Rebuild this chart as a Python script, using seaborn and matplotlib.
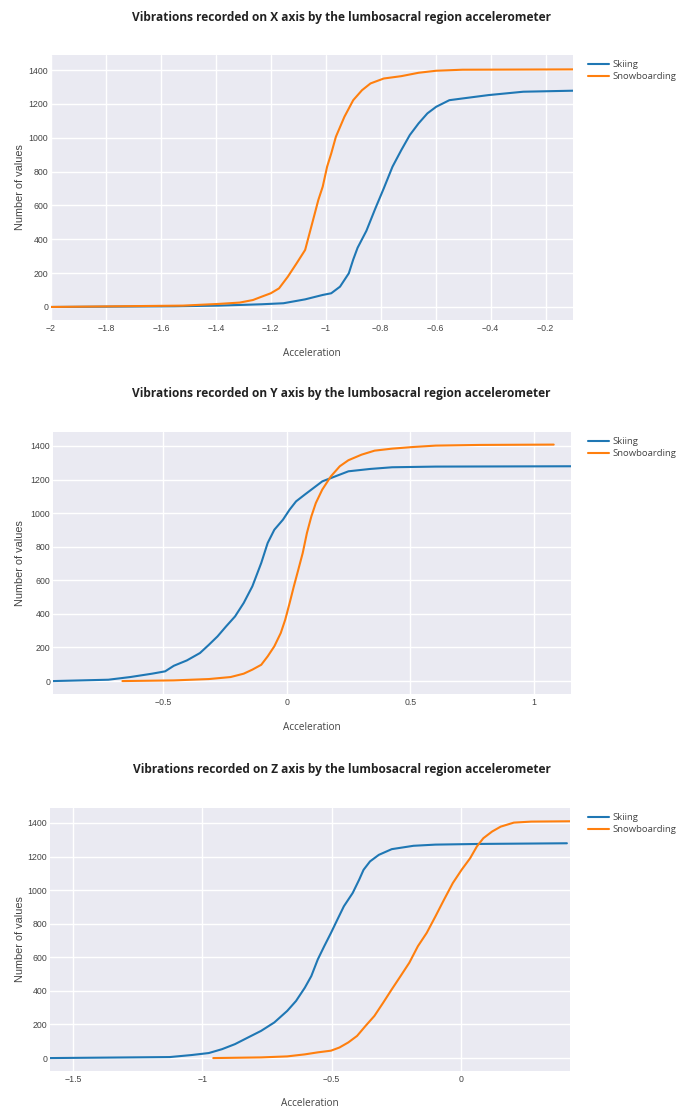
import numpy as np
import pandas as pd
import matplotlib
matplotlib.use("Agg")
import matplotlib.pyplot as plt
import seaborn as sns

# ---------------- data ----------------
titles = [
    "Vibrations recorded on X axis by the lumbosacral region accelerometer",
    "Vibrations recorded on Y axis by the lumbosacral region accelerometer",
    "Vibrations recorded on Z axis by the lumbosacral region accelerometer",
]
series_names = ["Skiing", "Snowboarding"]

x_ski_x = [-2.0, -1.55, -1.39, -1.233, -1.154, -1.075, -1.011, -0.98, -0.948, -0.916, -0.90,
           -0.884, -0.852, -0.82, -0.789, -0.757, -0.725, -0.694, -0.662, -0.63, -0.598,
           -0.55, -0.503, -0.408, -0.281, -0.1]
y_ski_x = [0, 4, 8, 16, 22, 45, 71, 81, 120, 199, 280, 350, 450, 580, 700, 829, 927, 1016,
           1085, 1144, 1183, 1222, 1232, 1252, 1272, 1278]

x_snow_x = [-2.0, -1.52, -1.39, -1.313, -1.265, -1.233, -1.2, -1.17, -1.138, -1.106, -1.075,
            -1.059, -1.043, -1.027, -1.011, -0.995, -0.98, -0.963, -0.932, -0.9, -0.868,
            -0.837, -0.789, -0.725, -0.662, -0.598, -0.503, -0.1]
y_snow_x = [0, 8, 18, 26, 41, 61, 81, 110, 179, 258, 337, 435, 533, 632, 711, 829, 907, 1006,
            1124, 1222, 1281, 1321, 1350, 1364, 1384, 1396, 1402, 1404]

x_ski_y = [-0.947, -0.723, -0.634, -0.546, -0.493, -0.458, -0.405, -0.352, -0.316, -0.281,
           -0.246, -0.21, -0.175, -0.14, -0.104, -0.078, -0.051, -0.016, 0.011, 0.037, 0.072,
           0.108, 0.143, 0.196, 0.249, 0.337, 0.426, 0.602, 1.15]
y_ski_y = [0, 8, 24, 44, 58, 91, 123, 167, 216, 266, 326, 385, 465, 564, 703, 822, 901, 961,
           1021, 1070, 1110, 1150, 1189, 1219, 1249, 1263, 1273, 1277, 1279]

x_snow_y = [-0.666, -0.458, -0.316, -0.228, -0.175, -0.14, -0.104, -0.078, -0.051, -0.025,
            -0.007, 0.011, 0.028, 0.046, 0.064, 0.081, 0.099, 0.117, 0.143, 0.178, 0.214,
            0.249, 0.302, 0.355, 0.426, 0.514, 0.602, 0.779, 1.08]
y_snow_y = [0, 4, 12, 24, 44, 68, 97, 147, 207, 286, 365, 465, 564, 663, 763, 882, 981, 1060,
            1140, 1219, 1279, 1315, 1348, 1372, 1384, 1394, 1402, 1406, 1408]

x_ski_z = [-1.589, -1.126, -1.042, -0.975, -0.924, -0.874, -0.823, -0.773, -0.722, -0.672,
           -0.638, -0.604, -0.579, -0.554, -0.529, -0.503, -0.478, -0.453, -0.419, -0.394,
           -0.377, -0.352, -0.318, -0.268, -0.184, -0.099, 0.069, 0.409]
y_ski_z = [0, 6, 18, 30, 53, 83, 123, 162, 212, 281, 340, 419, 488, 587, 666, 745, 825, 904,
           983, 1062, 1121, 1171, 1210, 1244, 1264, 1271, 1275, 1279]

x_snow_z = [-0.958, -0.773, -0.672, -0.604, -0.554, -0.503, -0.47, -0.436, -0.402, -0.369,
            -0.335, -0.301, -0.268, -0.234, -0.2, -0.167, -0.133, -0.099, -0.066, -0.032,
            0.002, 0.035, 0.061, 0.086, 0.12, 0.153, 0.204, 0.271, 0.421]
y_snow_z = [0, 4, 10, 22, 34, 44, 63, 93, 132, 192, 251, 330, 409, 488, 568, 666, 745, 844,
            943, 1042, 1121, 1190, 1260, 1309, 1349, 1378, 1402, 1408, 1410]

x_ticks = [
    [-2, -1.8, -1.6, -1.4, -1.2, -1, -0.8, -0.6, -0.4, -0.2],
    [-0.5, 0, 0.5, 1],
    [-1.5, -1, -0.5, 0],
]
y_ticks = [0, 200, 400, 600, 800, 1000, 1200, 1400]

panels = [
    (x_ski_x, y_ski_x, x_snow_x, y_snow_x),
    (x_ski_y, y_ski_y, x_snow_y, y_snow_y),
    (x_ski_z, y_ski_z, x_snow_z, y_snow_z),
]

# ---------------- style ----------------
sns.set_theme(style="darkgrid")
plt.rcParams["font.family"] = ["Open Sans", "DejaVu Sans"]
plt.rcParams["axes.facecolor"] = "#EAEAF2"
plt.rcParams["grid.color"] = "white"
plt.rcParams["grid.linewidth"] = 1.0

colors = {"Skiing": "#1f77b4", "Snowboarding": "#ff7f0e"}

W, H = 683, 1111
fig = plt.figure(figsize=(W / 100, H / 100), dpi=100)
fig.patch.set_facecolor("white")

# axes boxes in pixels: left, top, right, bottom
boxes = [(51, 55, 573, 320), (53, 432, 571, 694), (50, 808, 570, 1071)]
ylims = [(-77, 1489), (-77, 1483), (-77, 1489)]
title_y = [17, 393, 770]
xlabel_y = [353, 727, 1104]

for i, (box, (xs, ys, xb, yb)) in enumerate(zip(boxes, panels)):
    l, t, r, b = box
    ax = fig.add_axes([l / W, 1 - b / H, (r - l) / W, (b - t) / H])
    df = pd.DataFrame({
        "Acceleration": list(xs) + list(xb),
        "Count": list(ys) + list(yb),
        "Activity": [series_names[0]] * len(xs) + [series_names[1]] * len(xb),
    })
    sns.lineplot(data=df, x="Acceleration", y="Count", hue="Activity",
                 palette=colors, estimator=None, sort=False,
                 linewidth=1.5, ax=ax)
    xmin = min(min(xs), min(xb))
    xmax = max(max(xs), max(xb))
    ax.set_xlim(xmin, xmax)
    ax.set_ylim(*ylims[i])
    ax.set_xticks(x_ticks[i])
    ax.set_xticklabels([f"{v:g}".replace("-", "\u2212") for v in x_ticks[i]],
                       family=["Liberation Sans", "DejaVu Sans"], fontsize=6.3, color="#444444")
    ax.set_yticks(y_ticks)
    ax.set_yticklabels([str(v) for v in y_ticks],
                       family=["Liberation Sans", "DejaVu Sans"], fontsize=6.3, color="#444444")
    ax.tick_params(axis="both", length=0)
    ax.tick_params(axis="y", pad=2)
    ax.tick_params(axis="x", pad=3)
    for s in ax.spines.values():
        s.set_visible(False)
    ax.set_xlabel("")
    ax.set_ylabel("")
    ax.grid(True, color="white", linewidth=1.0)

    # legend
    handles, labels = ax.get_legend_handles_labels()
    ax.legend(handles, labels, loc="upper left",
              bbox_to_anchor=(586 / W, 1 - (t + 3) / H), bbox_transform=fig.transFigure,
              frameon=False, fontsize=6.8, handlelength=2.2, handletextpad=0.4,
              labelspacing=0.35, borderaxespad=0, borderpad=0.2,
              labelcolor="#444444")

    fig.text(0.5, 1 - title_y[i] / H, titles[i], ha="center", va="center",
             fontsize=8.6, fontweight="bold", color="#222222")
    fig.text((l + r) / 2 / W, 1 - xlabel_y[i] / H, "Acceleration", ha="center",
             va="center", fontsize=7.2, color="#444444")
    fig.text(20 / W, 1 - (t + b) / 2 / H, "Number of values", rotation=90,
             ha="center", va="center", fontsize=7.8, color="#444444",
             family=["Liberation Sans", "DejaVu Sans"])

fig.savefig("out.png", dpi=100, facecolor="white")
